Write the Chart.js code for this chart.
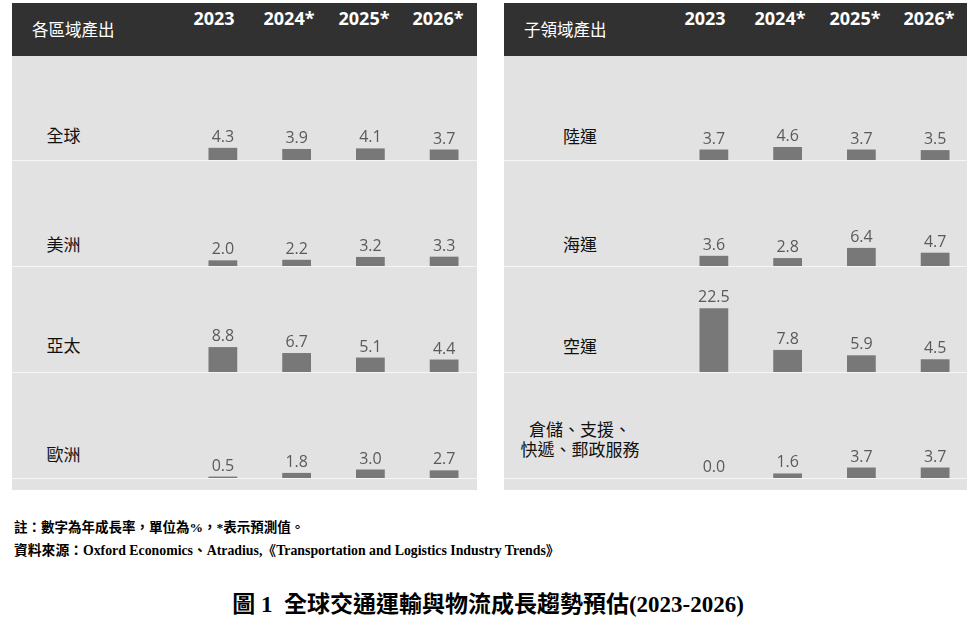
<!DOCTYPE html>
<html>
<head>
<meta charset="utf-8">
<script src="https://cdn.jsdelivr.net/npm/chart.js@4.4.1/dist/chart.umd.min.js"></script>
<style>
  body { margin: 0; background: #fff; }
  #page { position: relative; width: 976px; height: 618px; overflow: hidden; }
  .abs { position: absolute; }
  .head { background: #313131; }
  .panel { background: #e2e2e2; }
  .sep { background: #f6f6f6; height: 1px; }
  .txt { position: absolute; white-space: nowrap; transform: translate(-50%, -50%); }
  .year { color: #fff; font: bold 18px "Open Sans", "DejaVu Sans", sans-serif; }
  .htitle { color: #fff; font: 16.5px "Noto Sans CJK TC", sans-serif; transform: translate(0, -50%); }
  .rowlab { color: #111; font: 17px "Noto Sans CJK TC", sans-serif; text-align: center; line-height: 20px; }
  .foot { position: absolute; left: 14px; white-space: nowrap; color: #000;
          font: bold 13.5px "Liberation Serif", "Noto Sans CJK TC", serif; }
  #title { position: absolute; left: 0; width: 976px; top: 585px; text-align: center; color: #000;
           font: bold 23px "Liberation Serif", "Noto Sans CJK TC", serif; }
  canvas { position: absolute; }
</style>
</head>
<body>
<div id="page"></div>
<script>
// 연도 (헤더)
const years = ["2023", "2024*", "2025*", "2026*"];

// 각 지역
const regionTitle = "各區域產出";
const regionNames = ["全球", "美洲", "亞太", "歐洲"];
const globalVals = [4.3, 3.9, 4.1, 3.7];
const americasVals = [2.0, 2.2, 3.2, 3.3];
const asiaPacVals = [8.8, 6.7, 5.1, 4.4];
const europeVals = [0.5, 1.8, 3.0, 2.7];

// 하위 분야
const sectorTitle = "子領域產出";
const sectorNames = ["陸運", "海運", "空運", "倉儲、支援、\n快遞、郵政服務"];
const landVals = [3.7, 4.6, 3.7, 3.5];
const seaVals = [3.6, 2.8, 6.4, 4.7];
const airVals = [22.5, 7.8, 5.9, 4.5];
const warehouseVals = [0.0, 1.6, 3.7, 3.7];

const noteText = "註：數字為年成長率，單位為%，*表示預測值。";
const sourceText = "資料來源：Oxford Economics、Atradius,《Transportation and Logistics Industry Trends》";
const figTitle = "圖 1  全球交通運輸與物流成長趨勢預估(2023-2026)";

const page = document.getElementById("page");

function box(cls, x, y, w, h) {
  const d = document.createElement("div");
  d.className = "abs " + cls;
  d.style.left = x + "px";
  d.style.top = y + "px";
  d.style.width = w + "px";
  if (h != null) d.style.height = h + "px";
  page.appendChild(d);
  return d;
}

function label(cls, text, x, y) {
  const d = document.createElement("div");
  d.className = "txt " + cls;
  d.style.left = x + "px";
  d.style.top = y + "px";
  d.innerHTML = text.split("\n").join("<br>");
  page.appendChild(d);
  return d;
}

// 막대 위 값 표시
const valueLabels = {
  id: "valueLabels",
  afterDatasetsDraw(chart) {
    const ctx = chart.ctx;
    const meta = chart.getDatasetMeta(0);
    ctx.save();
    ctx.fillStyle = "#5a5a5a";
    ctx.font = '16px "Open Sans", "DejaVu Sans", sans-serif';
    ctx.textAlign = "center";
    ctx.textBaseline = "alphabetic";
    meta.data.forEach((bar, i) => {
      const v = chart.data.datasets[0].data[i];
      ctx.fillText(v.toFixed(1), bar.x, bar.y - 6);
    });
    ctx.restore();
  },
};

const rowBases = [160, 266, 372, 478];
const rowH = 100;
const pxPerUnit = 2.83;

function miniChart(x, base, values) {
  const c = document.createElement("canvas");
  c.width = 295;
  c.height = rowH;
  c.style.left = x + "px";
  c.style.top = base - rowH + "px";
  page.appendChild(c);
  new Chart(c.getContext("2d"), {
    type: "bar",
    data: {
      labels: years,
      datasets: [
        {
          data: values,
          backgroundColor: "#787878",
          borderWidth: 0,
          barPercentage: 0.39,
          categoryPercentage: 1,
        },
      ],
    },
    options: {
      responsive: false,
      animation: false,
      layout: { padding: 0 },
      scales: {
        x: { display: false },
        y: { display: false, min: 0, max: rowH / pxPerUnit },
      },
      plugins: { legend: { display: false }, tooltip: { enabled: false } },
    },
    plugins: [valueLabels],
  });
}

function panel(px, pw, chartX, title, names, labelX, labelYs, yearXs, series) {
  box("head", px, 3, pw, 53);
  box("panel", px, 56, pw, 434);
  rowBases.forEach((b) => box("sep", px, b, pw));
  label("htitle", title, px + 20, 28.5);
  years.forEach((y, i) => label("year", y, yearXs[i], 18));
  names.forEach((n, i) => label("rowlab", n, labelX, labelYs[i]));
  series.forEach((vals, i) => miniChart(chartX, rowBases[i], vals));
}

panel(12, 465, 186, regionTitle, regionNames, 63.5, [135, 244, 345, 454],
  [214, 289, 364, 438], [globalVals, americasVals, asiaPacVals, europeVals]);
panel(504, 463, 677, sectorTitle, sectorNames, 580, [136, 244, 346, 439],
  [705, 780, 855, 929], [landVals, seaVals, airVals, warehouseVals]);

const n1 = document.createElement("div");
n1.className = "foot";
n1.style.top = "516px";
n1.textContent = noteText;
page.appendChild(n1);

const n2 = document.createElement("div");
n2.className = "foot";
n2.style.top = "539px";
n2.style.fontSize = "13.8px";
n2.textContent = sourceText;
page.appendChild(n2);

const tt = document.createElement("div");
tt.id = "title";
tt.style.whiteSpace = "pre";
tt.textContent = figTitle;
page.appendChild(tt);
</script>
</body>
</html>
